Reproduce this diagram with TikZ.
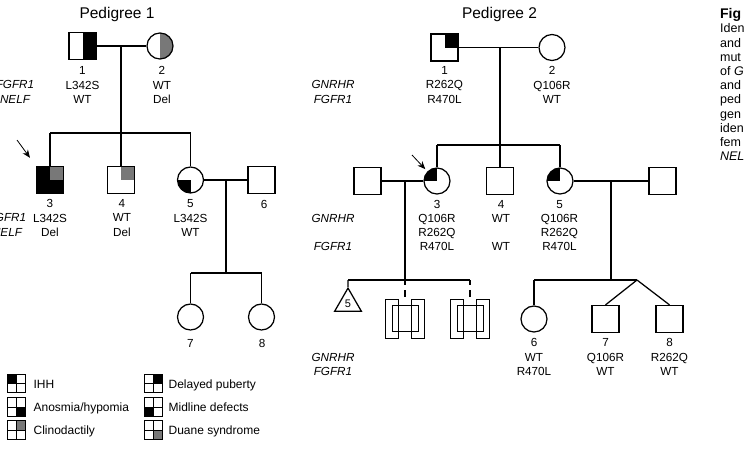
\documentclass[tikz,border=0pt]{standalone}
\usepackage{fontspec}
\setmainfont{Liberation Sans}
\usetikzlibrary{shapes.geometric,arrows.meta}

\definecolor{trait}{gray}{0.47}

% fill the four quarters of a symbol (tl, tr, bl, br)
\newcommand\quadfill[4]{%
  \fill[#1] (path picture bounding box.north west) rectangle (path picture bounding box.center);
  \fill[#2] (path picture bounding box.north east) rectangle (path picture bounding box.center);
  \fill[#3] (path picture bounding box.south west) rectangle (path picture bounding box.center);
  \fill[#4] (path picture bounding box.south east) rectangle (path picture bounding box.center);}

\begin{document}
\begin{tikzpicture}
  [x=1pt,y=-1pt,line width=1.25pt,
   every node/.style={font=\fontsize{11.7}{14.3}\selectfont},
   male/.style={rectangle,draw,minimum size=27pt,inner sep=0pt},
   female/.style={circle,draw,minimum size=26pt,inner sep=0pt},
   quads/.style n args={4}{path picture={\quadfill{#1}{#2}{#3}{#4}}},
   lbl/.style={align=center,inner sep=0pt},
   gene/.style={align=center,inner sep=0pt,font=\fontsize{11.7}{14.3}\selectfont\itshape},
   title/.style={font=\fontsize{15.5}{18}\selectfont},
   proband/.style={-{Stealth[length=8pt,width=6.5pt]},line width=.8pt},
   stub/.style={dash pattern=on 5pt off 5pt on 8pt off 20pt,shorten >=8pt},
   legbox/.style n args={4}{rectangle,draw,line width=.7pt,minimum size=18.5pt,inner sep=0pt,
     path picture={\quadfill{#1}{#2}{#3}{#4}
       \draw[line width=.6pt] (path picture bounding box.north) -- (path picture bounding box.south)
         (path picture bounding box.west) -- (path picture bounding box.east);}},
   legtxt/.style={anchor=base west,inner sep=0pt,font=\fontsize{12}{14}\selectfont}]
  \useasboundingbox (0,0) rectangle (746,448);
  \fill[white] (0,0) rectangle (746,448);
  \clip (0,0) rectangle (746,448);

  % ---- pedigree 1
  \node[title] (t1) at (117,14) {Pedigree 1};
  \node[male,quads={white}{black}{white}{black}] (a1) at (82.5,46) {};
  \node[female,quads={white}{trait}{white}{trait}] (a2) at (160,46) {};
  \coordinate (a12) at (121,46);
  \coordinate (a1s) at (121,133);
  \coordinate (a3t) at (50,133);
  \coordinate (a5t) at (190.5,133);
  \node[male,quads={black}{trait}{black}{black}] (a3) at (50,180) {};
  \node[male,quads={white}{trait}{white}{white}] (a4) at (121,180) {};
  \node[female,quads={white}{white}{black}{white}] (a5) at (190.5,180) {};
  \node[male] (a6) at (261.5,180) {};
  \coordinate (a56) at (226,180);
  \coordinate (a56s) at (226,273);
  \coordinate (a7t) at (190.5,273);
  \coordinate (a8t) at (261.5,273);
  \node[female] (a7) at (190.5,317) {};
  \node[female] (a8) at (261.5,317) {};

  \path[draw]
    (a1) edge (a2)
    (a12) edge (a1s)
    (a3t) edge (a5t)
    (a3t) edge (a3)
    (a1s) edge (a4)
    (a5t) edge (a5)
    (a5) edge (a6)
    (a56) edge (a56s)
    (a7t) edge (a8t)
    (a7t) edge (a7)
    (a8t) edge (a8);

  \coordinate (pa3) at (17,140);
  \draw[proband,shorten >=10pt] (pa3) -- (a3.north west);

  \node[gene] (g1a) at (15,92) {FGFR1\\NELF};
  \node[lbl] (l1a) at (82.5,85) {1\\L342S\\WT};
  \node[lbl] (l2a) at (162,85) {2\\WT\\Del};
  \node[gene] (g1b) at (7,225) {FGFR1\\NELF};
  \node[lbl] (l3a) at (50,218) {3\\L342S\\Del};
  \node[lbl] (l4a) at (122,218) {4\\WT\\Del};
  \node[lbl] (l5a) at (190.5,218) {5\\L342S\\WT};
  \node[lbl] (l6a) at (264,204) {6};
  \node[lbl] (l7a) at (190.5,343) {7};
  \node[lbl] (l8a) at (262,343) {8};

  % ---- pedigree 2
  \node[title] (t2) at (499.5,14) {Pedigree 2};
  \node[male,quads={white}{black}{white}{white}] (b1) at (444.5,47.5) {};
  \node[female] (b2) at (552,47.5) {};
  \coordinate (b12) at (500,47.5);
  \coordinate (b12s) at (500,145);
  \coordinate (b3t) at (437,145);
  \coordinate (b5t) at (560,145);
  \node[male] (b3sp) at (367.5,181) {};
  \node[female,quads={black}{white}{white}{white}] (b3) at (437,181) {};
  \node[male] (b4) at (500,181) {};
  \node[female,quads={black}{white}{white}{white}] (b5) at (560,181) {};
  \node[male] (b5sp) at (662.5,181) {};

  % children of 3
  \coordinate (b35) at (405,181);
  \coordinate (b35s) at (405,280);
  \coordinate (btt) at (348,280);
  \coordinate (bx2t) at (470,280);
  \node[regular polygon,regular polygon sides=3,draw,minimum size=31pt,inner sep=0pt,
        font=\fontsize{11}{13}\selectfont] (bt) at (348,303.6) {5};
  \foreach \n/\x in {bx1/405,bx2/470}{
    \node[rectangle,draw,line width=.9pt,minimum size=26pt,inner sep=0pt] (\n) at (\x,318.7) {};
    \draw[line width=.9pt] (\n.center) ++(-19.5,-19.5) rectangle +(13,39);
    \draw[line width=.9pt] (\n.center) ++(6.5,-19.5) rectangle +(13,39);
  }

  % children of 5
  \coordinate (b56) at (611,181);
  \coordinate (b56s) at (611,280);
  \coordinate (b6t) at (534,280);
  \coordinate (btw) at (637,280);
  \node[female] (b6) at (534,319) {};
  \node[male] (b7) at (605.5,319) {};
  \node[male] (b8) at (669.5,319) {};

  \path[draw]
    (b1) edge (b2)
    (b12) edge (b12s)
    (b3t) edge (b5t)
    (b3t) edge (b3)
    (b12s) edge (b4)
    (b5t) edge (b5)
    (b3sp) edge (b3)
    (b5) edge (b5sp)
    (b35) edge (b35s)
    (btt) edge (bx2t)
    (btt) edge (bt)
    (b56) edge (b56s)
    (b6t) edge (btw)
    (b6t) edge (b6)
    (btw) edge (b7.north)
    (btw) edge (b8.north);
  \draw[stub] (b35s) -- (bx1);
  \draw[stub] (bx2t) -- (bx2);

  \coordinate (pb3) at (412,155);
  \draw[proband,shorten >=3pt] (pb3) -- (b3.north west);

  \node[gene] (g2a) at (333,92) {GNRHR\\FGFR1};
  \node[lbl] (l1b) at (444.5,85) {1\\R262Q\\R470L};
  \node[lbl] (l2b) at (552,85) {2\\Q106R\\WT};
  \node[gene] (g2b) at (333,232.5) {GNRHR\\\mbox{}\\FGFR1};
  \node[lbl] (l3b) at (437,225.5) {3\\Q106R\\R262Q\\R470L};
  \node[lbl] (l4b) at (501,225.5) {4\\WT\\\mbox{}\\WT};
  \node[lbl] (l5b) at (559.5,225.5) {5\\Q106R\\R262Q\\R470L};
  \node[gene] (g2c) at (333,364.5) {GNRHR\\FGFR1};
  \node[lbl] (l6b) at (534,357) {6\\WT\\R470L};
  \node[lbl] (l7b) at (605.5,357) {7\\Q106R\\WT};
  \node[lbl] (l8b) at (669.5,357) {8\\R262Q\\WT};

  % ---- key
  \node[legbox={black}{white}{white}{white}] (k1) at (16.5,383.5) {};
  \node[legbox={white}{white}{white}{black}] (k2) at (16.5,406.8) {};
  \node[legbox={white}{trait}{white}{white}] (k3) at (16.5,430) {};
  \node[legbox={white}{black}{white}{white}] (k4) at (153.5,383.5) {};
  \node[legbox={white}{white}{black}{white}] (k5) at (153.5,406.8) {};
  \node[legbox={white}{white}{white}{trait}] (k6) at (153.5,430) {};
  \node[legtxt] (k1t) at (33,388) {IHH};
  \node[legtxt] (k2t) at (33,411.3) {Anosmia/hypomia};
  \node[legtxt] (k3t) at (33,434.5) {Clinodactily};
  \node[legtxt] (k4t) at (168,388) {Delayed puberty};
  \node[legtxt] (k5t) at (168,411.3) {Midline defects};
  \node[legtxt] (k6t) at (168,434.5) {Duane syndrome};

  % ---- caption column
  \node[anchor=north west,align=left,inner sep=0pt,font=\fontsize{12.5}{14.2}\selectfont] (cap)
    at (719.5,8) {{\fontsize{14}{14.2}\selectfont\bfseries Fig}\\Iden\\and\\mut\\of \textit{G}\\and\\ped\\gen\\iden\\fem\\\textit{NEL}};
\end{tikzpicture}
\end{document}
